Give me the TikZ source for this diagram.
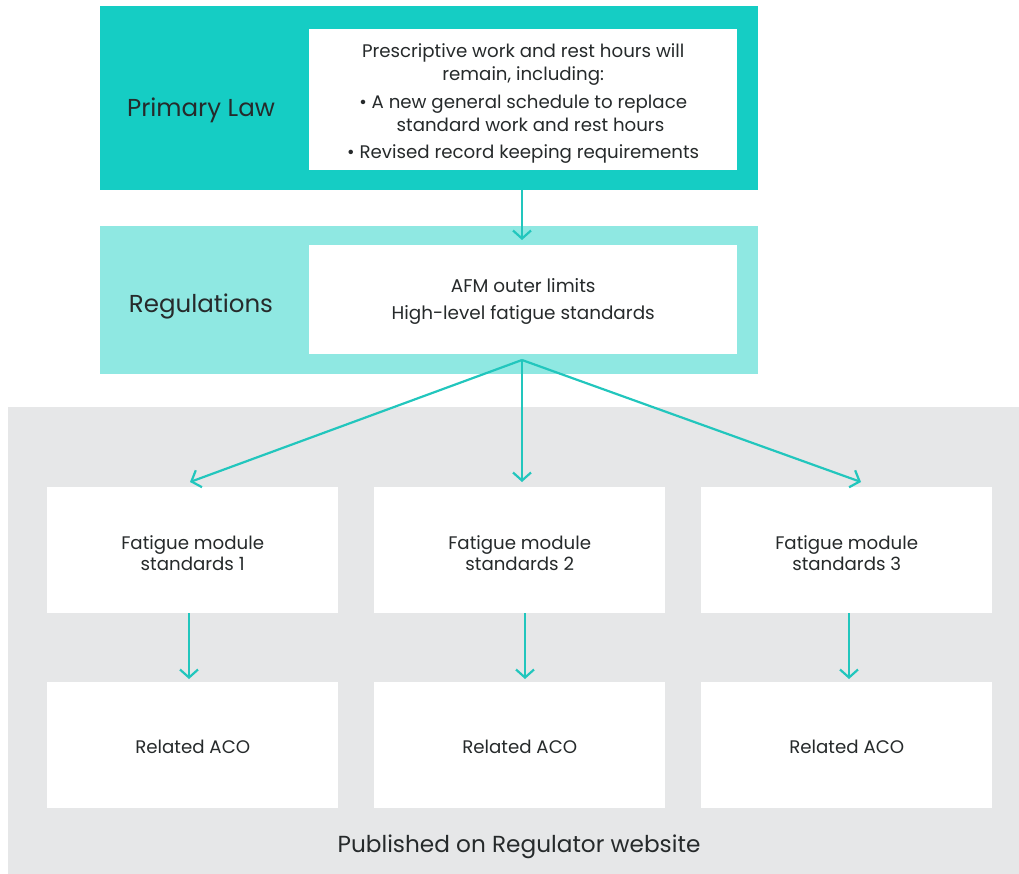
\documentclass[tikz,border=0pt]{standalone}
\usepackage{fontspec}
\setmainfont{Poppins}
\usetikzlibrary{arrows.meta,calc}
\definecolor{lawteal}{HTML}{15CDC4}
\definecolor{regteal}{HTML}{8FE8E2}
\definecolor{webgrey}{HTML}{E6E7E8}
\definecolor{linkteal}{HTML}{22C6BD}
\definecolor{inktext}{HTML}{262A2B}
\begin{document}
\begin{tikzpicture}[x=1pt,y=-1pt,
  band/.style={rectangle,inner sep=0pt,anchor=north west},
  card/.style={rectangle,fill=white,inner sep=0pt,anchor=north west},
  label/.style={text=inktext,align=center,inner sep=0pt},
  link/.style={draw=linkteal,line width=2.2pt,-{Straight Barb[length=8pt,width=18pt,line width=2.2pt]}}
]
\useasboundingbox (0,0) rectangle (1019,874);
% publication area
\node[band,fill=webgrey,minimum width=1011pt,minimum height=467pt] (web) at (8,407) {};
% legal tiers
\node[band,fill=lawteal,minimum width=658pt,minimum height=184pt] (law) at (100,6) {};
\node[band,fill=regteal,minimum width=658pt,minimum height=148pt] (reg) at (100,226) {};
\node[card,minimum width=428pt,minimum height=141pt] (lawcard) at (309,29) {};
\node[card,minimum width=428pt,minimum height=109pt] (regcard) at (309,245) {};
% module cards
\foreach \i/\x in {1/47,2/374,3/701}{
  \node[card,minimum width=291pt,minimum height=126pt] (mod\i) at (\x,487) {};
  \node[card,minimum width=291pt,minimum height=126pt] (aco\i) at (\x,682) {};
}
% texts
\node[label,font=\fontsize{24.5}{28}\selectfont] (lawname) at (201,110) {Primary Law};
\node[label,font=\fontsize{24.5}{28}\selectfont] (regname) at (201,306) {Regulations};
\node[label,font=\fontsize{18.2}{23}\selectfont] (lawtext) at ($(lawcard.center)+(0,4)$)
  {Prescriptive work and rest hours will\\remain, including:\\[4.5pt]
   • A new general schedule to replace\\\hspace*{0.8em}standard work and rest hours\\[4.5pt]
   • Revised record keeping requirements};
\node[label,font=\fontsize{18.4}{27}\selectfont] (regtext) at ($(regcard.center)+(0,2)$)
  {AFM outer limits\\High-level fatigue standards};
\foreach \i in {1,2,3}{
  \node[label,font=\fontsize{18.2}{21.5}\selectfont] (modtext\i) at ($(mod\i.center)+(0,3)$) {Fatigue module\\standards \i};
  \node[label,font=\fontsize{18.2}{21.5}\selectfont] (acotext\i) at ($(aco\i.center)+(0,2)$) {Related ACO};
}
\node[label,font=\fontsize{23.2}{28}\selectfont] (webtext) at (519,847) {Published on Regulator website};
% connectors
\coordinate (lawfoot) at (522,190);
\coordinate (regtop) at (522,240);
\coordinate (regfoot) at (522,360);
\draw[link] (lawfoot) -- (regtop);
\coordinate (tip1) at (190,482);
\coordinate (tip2) at (522,482);
\coordinate (tip3) at (861,482);
\foreach \i in {1,2,3}{\draw[link] (regfoot) -- (tip\i);}
\foreach \i/\x in {1/189,2/525,3/849}{
  \coordinate (mfoot\i) at (\x,613);
  \coordinate (atop\i) at (\x,679);
  \draw[link] (mfoot\i) -- (atop\i);
}
\end{tikzpicture}
\end{document}
